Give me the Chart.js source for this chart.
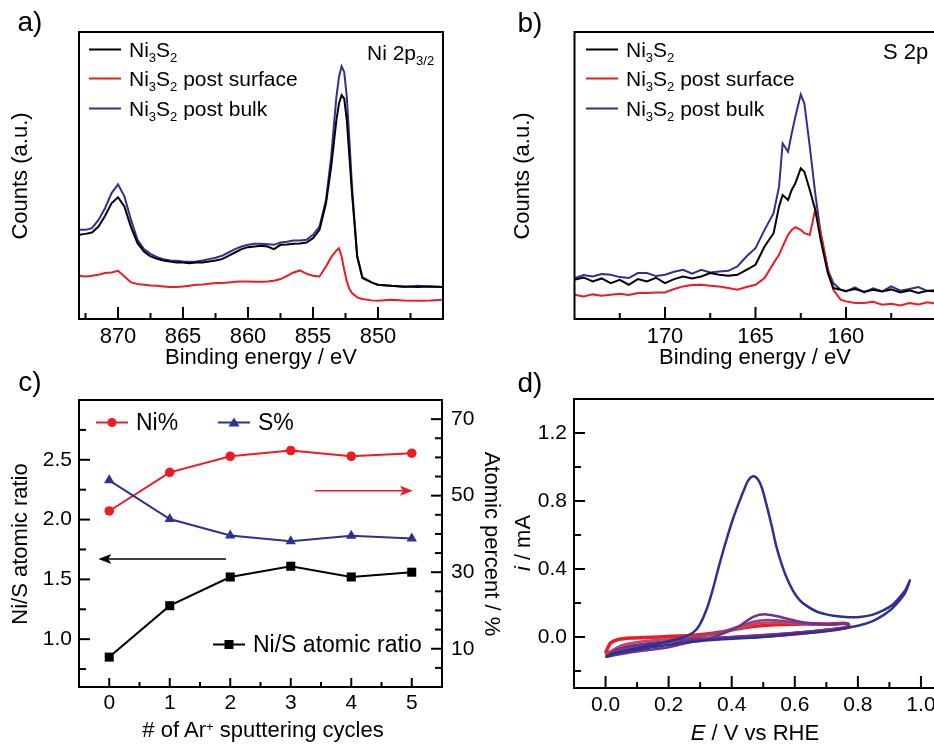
<!DOCTYPE html>
<html>
<head>
<meta charset="utf-8">
<script src="https://cdn.jsdelivr.net/npm/chart.js@4.4.0/dist/chart.umd.min.js"></script>
<style>
  html, body { margin: 0; padding: 0; background: #fff; }
  body { width: 934px; height: 744px; overflow: hidden; position: relative;
         font-family: 'Liberation Sans', Arial, sans-serif; color: #000; }
  canvas { position: absolute; }
  .t { position: absolute; white-space: nowrap; font-size: 22px; line-height: 1; }
  .c { transform: translate(-50%, -50%); }
  .rl { transform: translate(-50%, -50%) rotate(-90deg); }
  .rr { transform: translate(-50%, -50%) rotate(90deg); }
  .lab { font-size: 28px; }
  .leg { position: absolute; white-space: nowrap; font-size: 21px; line-height: 1;
         display: flex; align-items: center; transform: translateY(-50%); }
  .leg svg { margin-right: 8px; flex: none; }
  sub { font-size: 0.62em; vertical-align: -0.4em; line-height: 0; }
  sup { font-size: 0.6em; vertical-align: 0.45em; line-height: 0; }
</style>
</head>
<body>

<canvas id="chart-a" width="470" height="370" style="left:0;top:0"></canvas>
<canvas id="chart-b" width="470" height="370" style="left:470px;top:0"></canvas>
<canvas id="chart-c" width="520" height="374" style="left:0;top:370px"></canvas>
<canvas id="chart-d" width="460" height="374" style="left:500px;top:370px"></canvas>

<!-- panel labels -->
<div class="t lab c" style="left:30px;top:22px">a)</div>
<div class="t lab c" style="left:530px;top:23px">b)</div>
<div class="t lab c" style="left:30px;top:382px">c)</div>
<div class="t lab c" style="left:530px;top:383px">d)</div>

<!-- axis titles -->
<div class="t rl" style="left:20px;top:176px">Counts (a.u.)</div>
<div class="t c" style="left:261px;top:357px">Binding energy / eV</div>
<div class="t rl" style="left:522px;top:176px">Counts (a.u.)</div>
<div class="t c" style="left:755px;top:357px">Binding energy / eV</div>
<div class="t rl" style="left:20px;top:544px">Ni/S atomic ratio</div>
<div class="t rr" style="left:492px;top:544px">Atomic percent / %</div>
<div class="t c" style="left:263px;top:730px"># of Ar<sup>+</sup> sputtering cycles</div>
<div class="t rl" style="left:523px;top:543px"><i>i</i> / mA</div>
<div class="t c" style="left:755px;top:733px"><i>E</i> / V vs RHE</div>

<!-- legends panel a -->
<div class="leg" style="left:89px;top:49px"><svg width="32" height="14"><line x1="0" y1="7" x2="32" y2="7" stroke="#000" stroke-width="2"/></svg><span>Ni<sub>3</sub>S<sub>2</sub></span></div>
<div class="leg" style="left:89px;top:78px"><svg width="32" height="14"><line x1="0" y1="7" x2="32" y2="7" stroke="#ed1c24" stroke-width="2"/></svg><span>Ni<sub>3</sub>S<sub>2</sub> post surface</span></div>
<div class="leg" style="left:89px;top:108px"><svg width="32" height="14"><line x1="0" y1="7" x2="32" y2="7" stroke="#2e3192" stroke-width="2"/></svg><span>Ni<sub>3</sub>S<sub>2</sub> post bulk</span></div>
<div class="leg" style="left:367px;top:52px"><span>Ni 2p<sub>3/2</sub></span></div>

<!-- legends panel b -->
<div class="leg" style="left:586px;top:49px"><svg width="32" height="14"><line x1="0" y1="7" x2="32" y2="7" stroke="#000" stroke-width="2"/></svg><span>Ni<sub>3</sub>S<sub>2</sub></span></div>
<div class="leg" style="left:586px;top:78px"><svg width="32" height="14"><line x1="0" y1="7" x2="32" y2="7" stroke="#ed1c24" stroke-width="2"/></svg><span>Ni<sub>3</sub>S<sub>2</sub> post surface</span></div>
<div class="leg" style="left:586px;top:108px"><svg width="32" height="14"><line x1="0" y1="7" x2="32" y2="7" stroke="#2e3192" stroke-width="2"/></svg><span>Ni<sub>3</sub>S<sub>2</sub> post bulk</span></div>
<div class="leg" style="left:883px;top:52px;font-size:22px"><span>S 2p</span></div>

<!-- legends panel c -->
<div class="leg" style="left:96px;top:422px;font-size:23px"><svg width="32" height="14"><line x1="0" y1="7" x2="32" y2="7" stroke="#ed1c24" stroke-width="2"/><circle cx="16" cy="7" r="4.5" fill="#ed1c24"/></svg><span>Ni%</span></div>
<div class="leg" style="left:218px;top:422px;font-size:23px"><svg width="32" height="14"><line x1="0" y1="7" x2="32" y2="7" stroke="#2e3192" stroke-width="2"/><polygon points="16,2 21.5,11 10.5,11" fill="#2e3192"/></svg><span>S%</span></div>
<div class="leg" style="left:213px;top:644px;font-size:23px"><svg width="32" height="14"><line x1="0" y1="7" x2="32" y2="7" stroke="#000" stroke-width="2"/><rect x="11.5" y="2.5" width="9" height="9" fill="#000"/></svg><span>Ni/S atomic ratio</span></div>

<script>
// ---------- panel a: Ni 2p3/2 ----------
const niEnergy = [873,872.5,872,871.5,871,870.5,870,869.5,869,868.5,868,867.5,867,866.5,866,865.5,865,864.5,864,863.5,863,862.5,862,861.5,861,860.5,860,859.5,859,858.5,858,857.5,857,856.5,856,855.5,855,854.5,854,853.6,853.2,853,852.8,852.6,852.4,852.2,852,851.6,851.2,850.5,850,849,848,847,846,845];
const niPristine = [25.3,25.6,26.0,27.8,31.0,34.8,36.6,33.8,27.6,22.8,20.3,18.8,18.1,17.6,17.3,17.0,17.0,16.8,17.0,17.0,17.3,17.6,18.0,19.0,20.0,21.0,21.6,21.8,22.0,21.8,21.0,22.3,22.4,22.6,22.7,23.0,24.3,26.8,34.8,45.8,59.8,64.8,67.3,66.3,59.8,48.8,37.8,18.8,12.3,11.0,10.3,10.0,9.8,9.6,9.8,9.6];
const niSurface = [13.0,12.8,13.0,13.3,13.8,14.0,14.5,12.8,11.0,10.5,10.3,10.1,10.0,9.8,9.6,9.6,9.8,10.0,10.3,10.4,10.6,10.8,10.8,11.0,11.2,11.3,11.3,11.2,11.2,11.3,11.5,12.0,13.0,14.0,14.6,13.6,13.0,12.8,15.8,18.6,20.6,21.3,18.8,14.8,11.3,9.0,7.8,6.5,6.0,5.6,5.5,5.8,5.6,5.5,5.6,5.8];
const niBulk = [26.8,26.8,27.3,29.8,33.3,37.8,40.5,36.8,29.8,23.8,21.0,19.6,18.6,18.0,17.6,17.5,17.3,17.2,17.3,17.6,18.0,18.4,19.0,20.0,21.0,21.8,22.3,22.6,22.6,22.5,22.3,23.0,23.2,23.6,23.6,23.8,25.3,27.8,35.8,48.8,66.8,72.8,76.0,74.3,66.8,53.8,39.8,18.8,12.6,11.0,10.2,10.0,9.6,10.0,9.8,9.6];
const niTicks = [870, 865, 860, 855, 850];
const niMinor = [872.5, 867.5, 862.5, 857.5, 852.5, 847.5];

// ---------- panel b: S 2p ----------
const sEnergy = [175,174.5,174,173.5,173,172.5,172,171.5,171,170.5,170,169.5,169,168.5,168,167.5,167,166.5,166,165.5,165,164.5,164,163.7,163.5,163.2,163,162.8,162.5,162.3,162,161.7,161.4,161,160.7,160.3,160,159.5,159,158.5,158,157.5,157,156.5,156,155.5,155];
const sPristine = [11.8,12.5,11.3,12.2,10.8,11.8,10.3,12.0,11.3,12.4,10.8,12.0,12.8,12.2,12.8,13.8,13.3,13.0,13.3,14.8,16.3,21.8,25.8,33.8,37.3,35.8,38.8,40.8,45.3,44.3,38.8,32.8,23.8,13.8,9.3,8.8,8.4,9.0,8.2,8.8,8.3,8.9,8.0,8.6,7.8,8.5,8.3];
const sSurface = [7.3,6.8,7.4,7.0,7.3,7.6,7.2,7.8,7.8,8.0,8.0,9.0,9.8,10.2,10.3,10.0,9.8,9.3,8.8,9.6,10.3,12.3,16.8,19.3,21.8,25.3,26.8,27.6,26.8,25.8,25.3,33.0,26.0,14.8,8.8,5.8,5.3,4.8,4.8,5.2,4.3,4.6,4.1,4.8,4.4,5.0,4.6];
const sBulk = [12.3,13.2,12.8,13.5,13.3,12.6,12.3,13.8,13.8,12.9,13.3,14.2,14.8,13.6,14.8,14.0,14.3,14.5,15.8,18.8,21.3,26.8,31.8,39.8,52.8,50.3,55.8,60.8,67.5,64.8,51.8,37.8,25.8,14.8,10.8,8.8,8.3,9.5,8.0,9.2,8.3,9.8,8.5,9.0,9.6,8.4,8.8];
const sTicks = [170, 165, 160];
const sMinor = [172.5, 167.5, 162.5, 157.5];

// ---------- panel c: sputtering ----------
const cycles = [0, 1, 2, 3, 4, 5];
const niPercent = [46.0, 56.1, 60.3, 61.8, 60.3, 61.1];
const sPercent = [54.0, 43.9, 39.6, 38.1, 39.5, 38.8];
const niSRatio = [0.85, 1.28, 1.52, 1.61, 1.52, 1.56];
const cycleTicks = [0, 1, 2, 3, 4, 5];
const cycleMinor = [0.5, 1.5, 2.5, 3.5, 4.5];
const ratioTicks = [1.0, 1.5, 2.0, 2.5];
const ratioMinor = [0.75, 1.25, 1.75, 2.25, 2.75];
const percentTicks = [10, 30, 50, 70];
const percentMinor = [5, 15, 20, 25, 35, 40, 45, 55, 60, 65];
// arrows: [from cycle, to cycle, level]
const arrowRatio = [1.93, -0.18, 1.67];
const arrowPercent = [3.4, 5.02, 51.3];

// ---------- panel d: CV ----------
const bulkE = [0.0,0.04,0.087,0.14,0.19,0.23,0.256,0.28,0.298,0.32,0.34,0.36,0.383,0.405,0.425,0.44,0.452,0.468,0.484,0.497,0.51,0.526,0.542,0.558,0.574,0.595,0.616,0.64,0.669,0.7,0.722,0.76,0.806,0.845,0.88,0.91,0.933,0.952,0.965,0.95,0.933,0.91,0.88,0.845,0.806,0.76,0.722,0.67,0.616,0.56,0.51,0.46,0.404,0.35,0.298,0.24,0.19,0.14,0.087,0.04,0.013,0.0];
const bulkI = [-0.118,-0.09,-0.07,-0.05,-0.03,-0.01,0.005,0.03,0.07,0.16,0.28,0.42,0.57,0.70,0.80,0.87,0.92,0.945,0.925,0.87,0.78,0.66,0.53,0.43,0.35,0.27,0.216,0.18,0.15,0.133,0.125,0.118,0.118,0.13,0.157,0.19,0.235,0.28,0.333,0.26,0.216,0.17,0.127,0.092,0.069,0.052,0.039,0.028,0.02,0.01,0.002,-0.005,-0.01,-0.016,-0.024,-0.035,-0.049,-0.062,-0.078,-0.095,-0.11,-0.118];
const loopE = [0.0,0.05,0.12,0.2,0.28,0.35,0.42,0.47,0.51,0.56,0.62,0.7,0.77,0.77,0.7,0.6,0.5,0.4,0.3,0.2,0.1,0.04,0.0];
const loop1I = [-0.118,-0.1,-0.08,-0.06,-0.025,0.005,0.06,0.12,0.133,0.115,0.088,0.075,0.077,0.055,0.04,0.025,0.012,0.0,-0.012,-0.025,-0.045,-0.07,-0.118];
const loop2I = [-0.11,-0.075,-0.05,-0.03,-0.005,0.02,0.06,0.09,0.1,0.095,0.08,0.073,0.077,0.057,0.042,0.024,0.01,-0.002,-0.014,-0.03,-0.055,-0.075,-0.11];
const loop3I = [-0.105,-0.05,-0.025,-0.012,0.0,0.02,0.05,0.075,0.085,0.085,0.078,0.074,0.078,0.058,0.042,0.023,0.008,-0.004,-0.015,-0.03,-0.055,-0.078,-0.105];
const lastE = [0.0,0.008,0.017,0.04,0.08,0.186,0.29,0.36,0.42,0.48,0.54,0.63,0.7,0.765,0.765,0.743,0.68,0.626,0.55,0.468,0.36,0.27,0.186,0.12,0.08,0.04,0.0];
const lastI = [-0.096,-0.06,-0.033,-0.015,-0.006,0.002,0.012,0.028,0.048,0.064,0.072,0.076,0.076,0.08,0.06,0.05,0.035,0.022,0.01,0.002,-0.008,-0.018,-0.032,-0.05,-0.066,-0.08,-0.096];
const potTicks = [0, 0.2, 0.4, 0.6, 0.8, 1.0];
const potMinor = [0.1, 0.3, 0.5, 0.7, 0.9];
const currTicks = [0, 0.4, 0.8, 1.2];
const currMinor = [-0.2, 0.2, 0.6, 1.0];

Chart.defaults.font.family = "'Liberation Sans', Arial, sans-serif";
Chart.defaults.color = '#000';

const BLACK = '#000000', RED = '#ed1c24', BLUE = '#2e3192';

const pairs = (xs, ys) => xs.map((x, k) => ({ x: x, y: ys[k] }));

// frame + inward tick marks
const frameTicks = {
    id: 'frameTicks',
    afterDatasetsDraw(chart, args, opts) {
        const { ctx, chartArea: a } = chart;
        ctx.save();
        ctx.strokeStyle = '#000';
        ctx.lineWidth = 2;
        ctx.strokeRect(a.left, a.top, a.right - a.left, a.bottom - a.top);
        (opts.marks || []).forEach(m => {
            const s = chart.scales[m.scale];
            const draw = (vals, len) => vals.forEach(v => {
                const p = s.getPixelForValue(v);
                ctx.beginPath();
                if (m.side === 'bottom') { ctx.moveTo(p, a.bottom); ctx.lineTo(p, a.bottom - len); }
                else if (m.side === 'left') { ctx.moveTo(a.left, p); ctx.lineTo(a.left + len, p); }
                else { ctx.moveTo(a.right, p); ctx.lineTo(a.right - len, p); }
                ctx.stroke();
            });
            draw(m.major, m.len[0]);
            draw(m.minor, m.len[1]);
        });
        ctx.restore();
    }
};

// arrows in data units
const arrows = {
    id: 'arrows',
    afterDatasetsDraw(chart, args, opts) {
        const { ctx } = chart;
        (opts.items || []).forEach(it => {
            const sx = chart.scales.x, sy = chart.scales[it.scale];
            const x0 = sx.getPixelForValue(it.from), x1 = sx.getPixelForValue(it.to);
            const y = sy.getPixelForValue(it.level);
            const dir = Math.sign(x1 - x0);
            ctx.save();
            ctx.strokeStyle = it.color;
            ctx.fillStyle = it.color;
            ctx.lineWidth = 1.5;
            ctx.beginPath();
            ctx.moveTo(x0, y);
            ctx.lineTo(x1 - dir * 10, y);
            ctx.stroke();
            ctx.beginPath();
            ctx.moveTo(x1, y);
            ctx.lineTo(x1 - dir * 13, y - 5);
            ctx.lineTo(x1 - dir * 10, y);
            ctx.lineTo(x1 - dir * 13, y + 5);
            ctx.closePath();
            ctx.fill();
            ctx.restore();
        });
    }
};

function axis(o) {
    return {
        type: 'linear',
        position: o.position,
        min: o.min,
        max: o.max,
        reverse: !!o.reverse,
        grid: { display: false, drawTicks: false },
        border: { display: false },
        ticks: {
            display: o.ticks.length > 0,
            padding: o.pad,
            autoSkip: false,
            maxRotation: 0,
            color: '#000',
            font: { size: o.font || 22 },
            callback: o.fmt || (v => v)
        },
        afterBuildTicks: s => { s.ticks = (o.ticks.length ? o.ticks : [o.min]).map(v => ({ value: v })); },
        afterFit: s => {
            if (o.position === 'left' || o.position === 'right') s.width = o.size;
            else s.height = o.size;
        }
    };
}

function baseOptions(padding, scales, plugins) {
    return {
        responsive: false,
        animation: false,
        events: [],
        devicePixelRatio: 1,
        layout: { padding: padding },
        scales: scales,
        plugins: Object.assign({ legend: { display: false }, tooltip: { enabled: false } }, plugins)
    };
}

function spectrum(label, xs, ys, color) {
    return { label: label, data: pairs(xs, ys), borderColor: color, borderWidth: 2,
             pointRadius: 0, showLine: true, tension: 0 };
}

// panel a
new Chart(document.getElementById('chart-a'), {
    type: 'scatter',
    data: { datasets: [
        spectrum('Ni3S2', niEnergy, niPristine, BLACK),
        spectrum('Ni3S2 post surface', niEnergy, niSurface, RED),
        spectrum('Ni3S2 post bulk', niEnergy, niBulk, BLUE)
    ] },
    options: baseOptions({ left: 0, top: 32, right: 27, bottom: 0 }, {
        x: axis({ position: 'bottom', min: 845, max: 873, reverse: true, ticks: niTicks, pad: 5, size: 51 }),
        y: axis({ position: 'left', min: 0, max: 86.3, ticks: [], size: 79 })
    }, { frameTicks: { marks: [{ scale: 'x', side: 'bottom', major: niTicks, minor: niMinor, len: [12, 6] }] } }),
    plugins: [frameTicks]
});

// panel b
new Chart(document.getElementById('chart-b'), {
    type: 'scatter',
    data: { datasets: [
        spectrum('Ni3S2', sEnergy, sPristine, BLACK),
        spectrum('Ni3S2 post surface', sEnergy, sSurface, RED),
        spectrum('Ni3S2 post bulk', sEnergy, sBulk, BLUE)
    ] },
    options: baseOptions({ left: 0, top: 32, right: 3.5, bottom: 0 }, {
        x: axis({ position: 'bottom', min: 155, max: 175, reverse: true, ticks: sTicks, pad: 5, size: 51 }),
        y: axis({ position: 'left', min: 0, max: 86.3, ticks: [], size: 104.5 })
    }, { frameTicks: { marks: [{ scale: 'x', side: 'bottom', major: sTicks, minor: sMinor, len: [12, 6] }] } }),
    plugins: [frameTicks]
});

// panel c
new Chart(document.getElementById('chart-c'), {
    type: 'scatter',
    data: { datasets: [
        { label: 'S%', data: pairs(cycles, sPercent), yAxisID: 'y2', borderColor: BLUE, backgroundColor: BLUE,
          borderWidth: 2, showLine: true, pointStyle: 'triangle', pointRadius: 6, pointBorderWidth: 0 },
        { label: 'Ni%', data: pairs(cycles, niPercent), yAxisID: 'y2', borderColor: RED, backgroundColor: RED,
          borderWidth: 2, showLine: true, pointStyle: 'circle', pointRadius: 4.8, pointBorderWidth: 0 },
        { label: 'Ni/S atomic ratio', data: pairs(cycles, niSRatio), yAxisID: 'y', borderColor: BLACK, backgroundColor: BLACK,
          borderWidth: 2, showLine: true, pointStyle: 'rect', pointRadius: 6.4, pointBorderWidth: 0 }
    ] },
    options: baseOptions({ left: 0, top: 30, right: 0, bottom: 0 }, {
        x: axis({ position: 'bottom', min: -0.5, max: 5.5, ticks: cycleTicks, pad: 4, size: 57, font: 21 }),
        y: axis({ position: 'left', min: 0.6, max: 3.0, ticks: ratioTicks, pad: 7, size: 79, font: 21, fmt: v => v.toFixed(1) }),
        y2: axis({ position: 'right', min: 0, max: 75, ticks: percentTicks, pad: 9, size: 78, font: 21 })
    }, {
        frameTicks: { marks: [
            { scale: 'x', side: 'bottom', major: cycleTicks, minor: cycleMinor, len: [9, 5] },
            { scale: 'y', side: 'left', major: ratioTicks, minor: ratioMinor, len: [11, 7] },
            { scale: 'y2', side: 'right', major: percentTicks, minor: percentMinor, len: [11, 7] }
        ] },
        arrows: { items: [
            { scale: 'y', from: arrowRatio[0], to: arrowRatio[1], level: arrowRatio[2], color: BLACK },
            { scale: 'y2', from: arrowPercent[0], to: arrowPercent[1], level: arrowPercent[2], color: RED }
        ] }
    }),
    plugins: [frameTicks, arrows]
});

// panel d
function cvLoop(label, xs, ys, color, width) {
    return { label: label, data: pairs(xs, ys), borderColor: color, borderWidth: width,
             pointRadius: 0, showLine: true, tension: 0.3 };
}
new Chart(document.getElementById('chart-d'), {
    type: 'scatter',
    data: { datasets: [
        cvLoop('bulk', bulkE, bulkI, BLUE, 2.5),
        cvLoop('cycle 1', loopE, loop1I, '#71318c', 2.5),
        cvLoop('cycle 2', loopE, loop2I, '#94407e', 2.5),
        cvLoop('cycle 3', loopE, loop3I, '#c04a58', 2.5),
        cvLoop('cycle 4', lastE, lastI, RED, 3.5)
    ] },
    options: baseOptions({ left: 0, top: 29, right: 7.5, bottom: 0 }, {
        x: axis({ position: 'bottom', min: -0.1, max: 1.1, ticks: potTicks, pad: 5, size: 56, font: 21, fmt: v => v.toFixed(1) }),
        y: axis({ position: 'left', min: -0.3, max: 1.4, ticks: currTicks, pad: 7, size: 74, font: 21, fmt: v => v.toFixed(1) })
    }, { frameTicks: { marks: [
        { scale: 'x', side: 'bottom', major: potTicks, minor: potMinor, len: [12, 6] },
        { scale: 'y', side: 'left', major: currTicks, minor: currMinor, len: [11, 7] }
    ] } }),
    plugins: [frameTicks]
});
</script>
</body>
</html>
